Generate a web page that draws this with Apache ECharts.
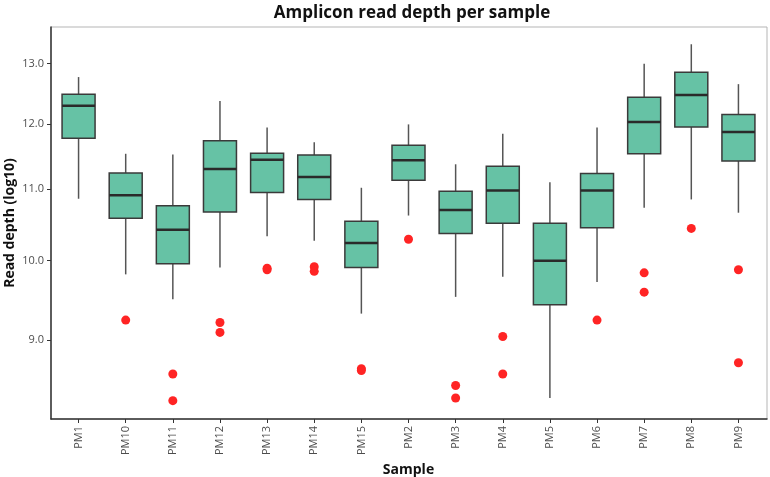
<!DOCTYPE html>
<html>
<head>
<meta charset="utf-8">
<script src="https://cdn.jsdelivr.net/npm/echarts@6/dist/echarts.min.js"></script>
<style>
  html, body { margin: 0; padding: 0; background: #fff; }
  #chart { width: 770px; height: 477px; }
</style>
</head>
<body>
<div id="chart"></div>
<script>
// samples in plot order
const samples = ['PM1', 'PM10', 'PM11', 'PM12', 'PM13', 'PM14', 'PM15', 'PM2', 'PM3', 'PM4', 'PM5', 'PM6', 'PM7', 'PM8', 'PM9']

// box stats per sample: [low whisker, q1, median, q3, high whisker]
const boxStats = [
  [10.86, 11.77, 12.29, 12.48, 12.77],
  [9.82, 10.58, 10.91, 11.24, 11.53],
  [9.50, 9.96, 10.42, 10.76, 11.52],
  [9.91, 10.67, 11.30, 11.73, 12.37],
  [10.33, 10.95, 11.44, 11.54, 11.94],
  [10.27, 10.85, 11.18, 11.51, 11.71],
  [9.32, 9.91, 10.24, 10.54, 11.02],
  [10.62, 11.13, 11.43, 11.66, 11.99],
  [9.53, 10.37, 10.70, 10.97, 11.37],
  [9.79, 10.51, 10.98, 11.34, 11.84],
  [8.33, 9.43, 10.00, 10.51, 11.10],
  [9.72, 10.45, 10.98, 11.23, 11.94],
  [10.73, 11.53, 12.03, 12.43, 13.00],
  [10.85, 11.95, 12.47, 12.85, 13.34],
  [10.66, 11.42, 11.87, 12.15, 12.65],
]

// outliers: [sample, value]
const outliers = [
  ['PM10', 9.24],
  ['PM11', 8.60], ['PM11', 8.30],
  ['PM12', 9.21], ['PM12', 9.09],
  ['PM13', 9.90], ['PM13', 9.88],
  ['PM14', 9.92], ['PM14', 9.86],
  ['PM15', 8.66], ['PM15', 8.64],
  ['PM2', 10.29],
  ['PM3', 8.47], ['PM3', 8.33],
  ['PM4', 9.04], ['PM4', 8.60],
  ['PM6', 9.24],
  ['PM7', 9.84], ['PM7', 9.59],
  ['PM8', 10.44],
  ['PM9', 9.88], ['PM9', 8.73],
]

const yTicks = [9, 10, 11, 12, 13]

const font = 'Open Sans'
const boxData = boxStats.map((s, i) => [i].concat(s))

const chart = echarts.init(document.getElementById('chart'))
chart.setOption({
  animation: false,
  title: {
    text: 'Amplicon read depth per sample',
    left: 407,
    textAlign: 'center',
    top: 0,
    textStyle: { fontFamily: font, fontSize: 17, fontWeight: 'bold', color: '#111' },
  },
  grid: [
    // data area
    { left: 55, right: 8, top: 27, bottom: 58, outerBoundsMode: 'none' },
    // frame around the panel
    {
      left: 51, right: 3, top: 27, bottom: 58, outerBoundsMode: 'none',
      show: true, borderColor: '#b5b5b5', borderWidth: 1, backgroundColor: 'transparent',
    },
  ],
  xAxis: [
    {
      gridIndex: 0,
      type: 'category',
      data: samples,
      name: 'Sample',
      nameLocation: 'middle',
      nameGap: 38,
      nameTextStyle: { fontFamily: font, fontSize: 14, fontWeight: 'bold', color: '#111' },
      axisLine: { show: false },
      axisTick: { show: true, alignWithLabel: true, length: 4, lineStyle: { color: '#333' } },
      axisLabel: { rotate: 90, margin: 7, fontFamily: font, fontSize: 11, color: '#4d4d4d' },
      splitLine: { show: false },
    },
    {
      gridIndex: 1,
      type: 'value',
      min: 0,
      max: 1,
      axisLine: { show: true, lineStyle: { color: '#333', width: 1.5 } },
      axisTick: { show: false },
      axisLabel: { show: false },
      splitLine: { show: false },
    },
  ],
  yAxis: [
    {
      gridIndex: 0,
      type: 'log',
      logBase: 10,
      min: 8.1,
      max: 13.65,
      offset: 4,
      name: 'Read depth (log10)',
      nameLocation: 'middle',
      nameGap: 34,
      nameMoveOverlap: false,
      nameTextStyle: { fontFamily: font, fontSize: 14, fontWeight: 'bold', color: '#111' },
      axisLine: { show: false },
      axisTick: { show: true, length: 4, customValues: yTicks, lineStyle: { color: '#333' } },
      axisLabel: {
        margin: 7,
        customValues: yTicks,
        fontFamily: font,
        fontSize: 11,
        color: '#4d4d4d',
        formatter: (v) => Number(v).toFixed(1),
      },
      splitLine: { show: false },
    },
    {
      gridIndex: 1,
      type: 'value',
      min: 0,
      max: 1,
      axisLine: { show: true, lineStyle: { color: '#333', width: 1.5 } },
      axisTick: { show: false },
      axisLabel: { show: false },
      splitLine: { show: false },
    },
  ],
  series: [
    {
      type: 'custom',
      xAxisIndex: 0,
      yAxisIndex: 0,
      data: boxData,
      encode: { x: 0, y: [1, 2, 3, 4, 5] },
      renderItem: (params, api) => {
        const x = api.value(0)
        const low = api.coord([x, api.value(1)])
        const q1 = api.coord([x, api.value(2)])
        const med = api.coord([x, api.value(3)])
        const q3 = api.coord([x, api.value(4)])
        const high = api.coord([x, api.value(5)])
        const bw = (params.coordSys.width / samples.length) * 0.7
        const cx = low[0]
        return {
          type: 'group',
          children: [
            {
              type: 'line',
              shape: { x1: cx, y1: low[1], x2: cx, y2: q1[1] },
              style: { stroke: '#555', lineWidth: 1.5 },
            },
            {
              type: 'line',
              shape: { x1: cx, y1: q3[1], x2: cx, y2: high[1] },
              style: { stroke: '#555', lineWidth: 1.5 },
            },
            {
              type: 'rect',
              shape: { x: cx - bw / 2, y: q3[1], width: bw, height: q1[1] - q3[1] },
              style: { fill: '#66c2a5', stroke: '#3a3a3a', lineWidth: 1.5 },
            },
            {
              type: 'line',
              shape: { x1: cx - bw / 2, y1: med[1], x2: cx + bw / 2, y2: med[1] },
              style: { stroke: '#2a2a2a', lineWidth: 2.5 },
            },
          ],
        }
      },
    },
    {
      type: 'scatter',
      xAxisIndex: 0,
      yAxisIndex: 0,
      data: outliers,
      symbol: 'circle',
      symbolSize: 9,
      itemStyle: { color: '#ff2424', opacity: 1 },
    },
  ],
})
</script>
</body>
</html>
